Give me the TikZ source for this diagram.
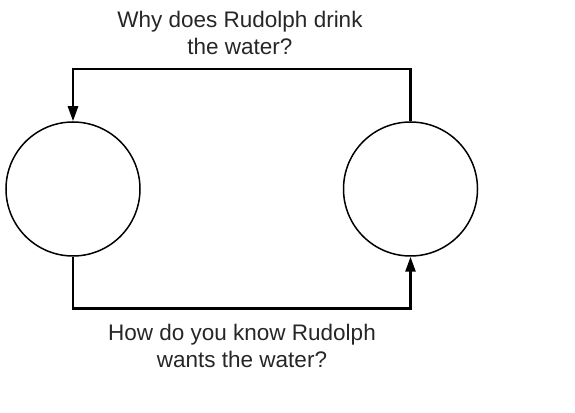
\documentclass[tikz,border=0pt]{standalone}
\usepackage{fontspec}
\setmainfont{Liberation Sans}
\usetikzlibrary{arrows.meta}

\begin{document}
\begin{tikzpicture}[x=1pt, y=1pt,
  loop/.style={draw, circle, line width=1.5pt, minimum size=134pt, inner sep=0pt},
  flow/.style={line width=2.6pt, -{Triangle[length=15pt, width=10pt]}},
  question/.style={align=center, font=\fontsize{22.5}{27}\selectfont, text=black!85}]

\useasboundingbox (0,0) rectangle (575,412);

% Draw the circles
\node[loop] (left) at (73, 223) {};
\node[loop] (right) at (410.5, 223) {};

% Bend points of the connectors
\coordinate (upper) at (241, 343);
\coordinate (lower) at (241, 103.5);

% Draw the connectors
\draw[flow] (right.north) |- (upper) -| (left.north);
\draw[flow] (left.south) |- (lower) -| (right.south);

% Add labels
\node[question] (why) at (240, 379) {Why does Rudolph drink\\the water?};
\node[question] (how) at (242, 66) {How do you know Rudolph\\wants the water?};

\end{tikzpicture}
\end{document}
